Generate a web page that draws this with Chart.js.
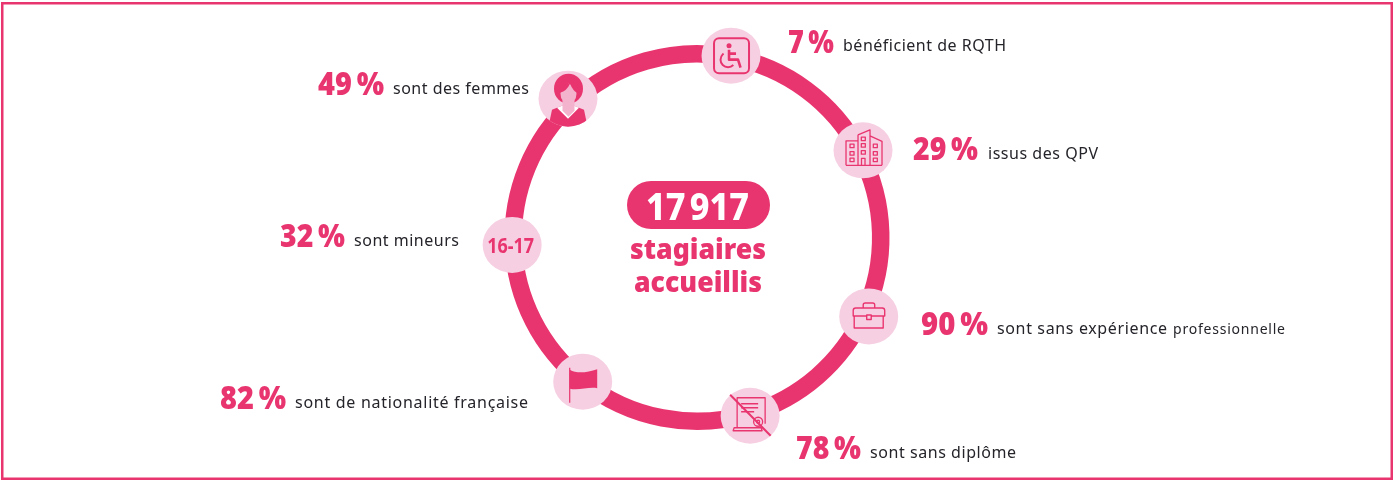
<!DOCTYPE html>
<html lang="fr">
<head>
<meta charset="utf-8">
<title>17 917 stagiaires accueillis</title>
<script src="https://cdn.jsdelivr.net/npm/chart.js@4"></script>
<style>
  html, body { margin: 0; padding: 0; background: #fff; }
  canvas { position: absolute; left: 0; top: 0; }
</style>
</head>
<body>
<canvas id="ring" width="1396" height="482"></canvas>
<script>
// Data
const total = '17 917';
const totalLabel = ['stagiaires', 'accueillis'];
const categories = ['RQTH', 'QPV', 'expérience', 'diplôme', 'nationalité', 'mineurs', 'femmes'];
const shares = [7, 29, 90, 78, 82, 32, 49];
const captions = [
  'bénéficient de RQTH',
  'issus des QPV',
  'sont sans expérience',
  'sont sans diplôme',
  'sont de nationalité française',
  'sont mineurs',
  'sont des femmes'
];
// Ring arcs, in degrees, between one badge and the next (clockwise from the RQTH badge)
const arcSpans = [51.7, 52.4, 48.7, 55, 49.3, 49.4, 53.5];
const firstBadgeAngle = 10.6;

const PINK = '#E9356F';
const PALE = '#F6D0E2';
const INK = '#24242A';
const FONT = '"Noto Sans"';

// Layout: one row per category
const badgeOffset = [185, 187.5, 189, 186, 184, 185, 189.5];
const shareBox = [[788, 53, 46], [913, 160, 65], [921, 335, 67], [796, 459, 65], [220, 409, 66], [280, 247, 65], [318, 95, 66]];
const captionBox = [[843, 51, 163], [988, 159, 110], [997, 334, 170], [870, 458, 146], [295, 408, 233], [354, 246, 105], [393, 94, 136]];

// Draws text to a given width: squeezed if too wide, letter spaced if too narrow
function fitText(ctx, text, x, y, width) {
  const natural = ctx.measureText(text).width;
  if (natural > width) {
    ctx.save();
    ctx.translate(x, y);
    ctx.scale(width / natural, 1);
    ctx.fillText(text, 0, 0);
    ctx.restore();
  } else {
    ctx.letterSpacing = ((width - natural) / (text.length - 1)).toFixed(3) + 'px';
    ctx.fillText(text, x, y);
    ctx.letterSpacing = '0px';
  }
}

const icons = {
  RQTH(c, x, y) {
    c.lineWidth = 2;
    c.beginPath();
    c.roundRect(x - 17, y - 17.5, 35, 35, 5);
    c.stroke();
    c.beginPath();
    c.arc(x - 2, y - 10, 2.5, 0, Math.PI * 2);
    c.fill();
    c.lineWidth = 2.6;
    c.lineJoin = 'round';
    c.beginPath();
    c.moveTo(x - 2, y - 6);
    c.lineTo(x - 2, y + 4);
    c.lineTo(x + 7, y + 4);
    c.lineTo(x + 9.5, y + 12);
    c.moveTo(x - 2, y - 2);
    c.lineTo(x + 5, y - 2);
    c.stroke();
    c.lineWidth = 2;
    c.beginPath();
    c.arc(x - 3, y + 4, 7.5, Math.PI * 0.25, Math.PI * 1.3);
    c.stroke();
  },
  QPV(c, x, y) {
    c.lineWidth = 1.3;
    c.beginPath();
    c.moveTo(x - 17, y + 15); c.lineTo(x - 17, y - 9.5); c.lineTo(x - 5, y - 9.5); c.lineTo(x - 5, y + 15);
    c.moveTo(x - 5, y - 15.5); c.lineTo(x + 7, y - 20.5); c.lineTo(x + 7, y + 15);
    c.moveTo(x - 5, y - 15.5); c.lineTo(x - 5, y - 9);
    c.moveTo(x + 7, y - 14.5); c.lineTo(x + 19, y - 9); c.lineTo(x + 19, y + 15);
    c.moveTo(x - 17, y + 15); c.lineTo(x + 19, y + 15);
    c.moveTo(x - 1.5, y + 15); c.lineTo(x - 1.5, y + 8); c.lineTo(x + 2, y + 8); c.lineTo(x + 2, y + 15);
    for (const row of [-4.5, 3, 9.5]) {
      c.rect(x - 13, y + row - 1.8, 4, 3.6);
      c.rect(x + 10.3, y + row - 1.8, 4, 3.6);
    }
    for (const row of [-11.5, -5, 2]) {
      c.rect(x - 1.7, y + row - 1.8, 4, 3.6);
    }
    c.stroke();
  },
  expérience(c, x, y) {
    c.lineWidth = 1.4;
    c.beginPath();
    c.moveTo(x - 14.5, y - 1); c.lineTo(x - 14.5, y + 11.5); c.lineTo(x + 14.5, y + 11.5); c.lineTo(x + 14.5, y - 1);
    c.moveTo(x - 2, y - 0.5); c.lineTo(x - 15.5, y - 0.5); c.lineTo(x - 15.5, y - 6);
    c.arcTo(x - 15.5, y - 8.5, x - 13, y - 8.5, 2.5);
    c.lineTo(x + 13.5, y - 8.5);
    c.arcTo(x + 16, y - 8.5, x + 16, y - 6, 2.5);
    c.lineTo(x + 16, y - 0.5); c.lineTo(x + 2.5, y - 0.5);
    c.rect(x - 2, y - 1.5, 4.5, 4.5);
    c.moveTo(x - 5.5, y - 8.5); c.lineTo(x - 5.5, y - 11.5);
    c.arcTo(x - 5.5, y - 13.5, x - 3.5, y - 13.5, 2);
    c.lineTo(x + 4, y - 13.5);
    c.arcTo(x + 6, y - 13.5, x + 6, y - 11.5, 2);
    c.lineTo(x + 6, y - 8.5);
    c.stroke();
  },
  diplôme(c, x, y) {
    c.lineWidth = 1.3;
    c.beginPath();
    c.moveTo(x - 13, y + 12); c.lineTo(x - 13, y - 18); c.lineTo(x + 15, y - 18); c.lineTo(x + 15, y + 8);
    c.moveTo(x - 9, y - 12); c.lineTo(x + 8, y - 12);
    c.moveTo(x - 9, y - 8); c.lineTo(x + 8, y - 8);
    c.moveTo(x - 9, y - 4); c.lineTo(x + 4, y - 4);
    c.moveTo(x - 16, y + 12); c.lineTo(x + 11, y + 12); c.lineTo(x + 12, y + 15); c.lineTo(x - 17, y + 15); c.closePath();
    c.moveTo(x + 12.5, y + 6);
    c.arc(x + 8, y + 6, 4.5, 0, Math.PI * 2);
    c.moveTo(x + 9.5, y + 6);
    c.arc(x + 8, y + 6, 1.5, 0, Math.PI * 2);
    c.stroke();
    c.lineWidth = 2;
    c.beginPath();
    c.moveTo(x - 20, y - 21);
    c.lineTo(x + 20.5, y + 20);
    c.stroke();
  },
  nationalité(c, x, y) {
    c.lineWidth = 1.2;
    c.beginPath();
    c.moveTo(x - 13, y - 14);
    c.lineTo(x - 13, y + 21);
    c.stroke();
    c.beginPath();
    c.moveTo(x - 13, y - 12);
    c.bezierCurveTo(x - 6, y - 8, x + 4, y - 9, x + 14.5, y - 12.5);
    c.lineTo(x + 14.5, y + 6.5);
    c.bezierCurveTo(x + 6, y + 5, x - 4, y + 9, x - 13, y + 7);
    c.closePath();
    c.fill();
  },
  mineurs(c, x, y) {
    c.font = `700 21px ${FONT}`;
    fitText(c, '16-17', x - 25, y + 8, 47);
  },
  femmes(c, x, y, rx, ry) {
    c.save();
    c.beginPath();
    c.ellipse(x, y, rx, ry, 0, 0, Math.PI * 2);
    c.clip();
    // jacket and hair
    c.beginPath();
    c.moveTo(x - 20, y + 30);
    c.lineTo(x - 16, y + 11);
    c.lineTo(x - 6, y + 7);
    c.lineTo(x + 6, y + 7);
    c.lineTo(x + 16, y + 11);
    c.lineTo(x + 20, y + 30);
    c.closePath();
    c.fill();
    c.beginPath();
    c.ellipse(x + 0.5, y - 10, 14.5, 15, 0, 0, Math.PI * 2);
    c.fill();
    // collar, neck, face
    c.fillStyle = '#fff';
    c.beginPath();
    c.moveTo(x - 11, y + 9); c.lineTo(x - 6, y + 7); c.lineTo(x + 6, y + 7); c.lineTo(x + 11, y + 9); c.lineTo(x, y + 20); c.closePath();
    c.fill();
    c.fillStyle = '#F4B3CD';
    c.beginPath();
    c.moveTo(x - 5.5, y + 1); c.lineTo(x + 6.5, y + 1); c.lineTo(x + 6.5, y + 12); c.lineTo(x + 0.5, y + 18); c.lineTo(x - 5.5, y + 12); c.closePath();
    c.fill();
    c.beginPath();
    c.ellipse(x + 0.5, y - 5, 8, 10, 0, 0, Math.PI * 2);
    c.fill();
    c.fillStyle = PINK;
    c.beginPath();
    c.moveTo(x - 8, y - 6);
    c.quadraticCurveTo(x - 1, y - 8, x + 2, y - 15);
    c.lineTo(x - 8, y - 15);
    c.closePath();
    c.fill();
    c.beginPath();
    c.moveTo(x + 9, y - 6);
    c.quadraticCurveTo(x + 5, y - 8, x + 2, y - 15);
    c.lineTo(x + 9, y - 15);
    c.closePath();
    c.fill();
    c.restore();
  }
};

const overlay = {
  id: 'overlay',
  afterDatasetsDraw(chart) {
    const c = chart.ctx;
    const arcs = chart.getDatasetMeta(0).data;
    c.save();
    c.textAlign = 'left';
    c.textBaseline = 'alphabetic';

    // frame
    c.strokeStyle = PINK;
    c.lineWidth = 2.5;
    c.strokeRect(2.25, 3.25, 1389.5, 475.5);

    // badges sit where two arcs meet
    categories.forEach((name, i) => {
      const arc = arcs[i];
      const bx = arc.x + badgeOffset[i] * Math.cos(arc.startAngle);
      const by = arc.y + badgeOffset[i] * Math.sin(arc.startAngle);
      c.fillStyle = PALE;
      c.beginPath();
      c.ellipse(bx, by, 29.5, 28, 0, 0, Math.PI * 2);
      c.fill();
      c.fillStyle = PINK;
      c.strokeStyle = PINK;
      icons[name](c, bx, by, 29.5, 28);
    });

    shares.forEach((share, i) => {
      c.fillStyle = PINK;
      c.font = `900 32px ${FONT}`;
      c.wordSpacing = '-3px';
      fitText(c, share + ' %', shareBox[i][0], shareBox[i][1], shareBox[i][2]);
      c.wordSpacing = '0px';
      c.fillStyle = INK;
      c.font = `400 16px ${FONT}`;
      fitText(c, captions[i], captionBox[i][0], captionBox[i][1], captionBox[i][2]);
    });
    c.font = `400 14px ${FONT}`;
    fitText(c, 'professionnelle', 1173, 334, 112);

    // centre
    c.fillStyle = PINK;
    c.beginPath();
    c.roundRect(627, 181, 143, 48, 24);
    c.fill();
    c.fillStyle = '#fff';
    c.font = `800 38px ${FONT}`;
    c.wordSpacing = '-5px';
    fitText(c, total, 646, 220, 103);
    c.wordSpacing = '0px';
    c.fillStyle = PINK;
    c.font = `900 29px ${FONT}`;
    fitText(c, totalLabel[0], 630, 259, 136);
    fitText(c, totalLabel[1], 634, 292, 128);
    c.restore();
  }
};

new Chart(document.getElementById('ring'), {
  type: 'doughnut',
  data: {
    labels: categories,
    datasets: [{ data: arcSpans, backgroundColor: PINK, borderWidth: 0 }]
  },
  options: {
    responsive: false,
    animation: false,
    events: [],
    rotation: firstBadgeAngle,
    cutout: '90.9%',
    layout: { padding: { left: 504.5, right: 506.5, top: 45, bottom: 52 } },
    plugins: { legend: { display: false }, tooltip: { enabled: false } }
  },
  plugins: [overlay]
});
</script>
</body>
</html>
